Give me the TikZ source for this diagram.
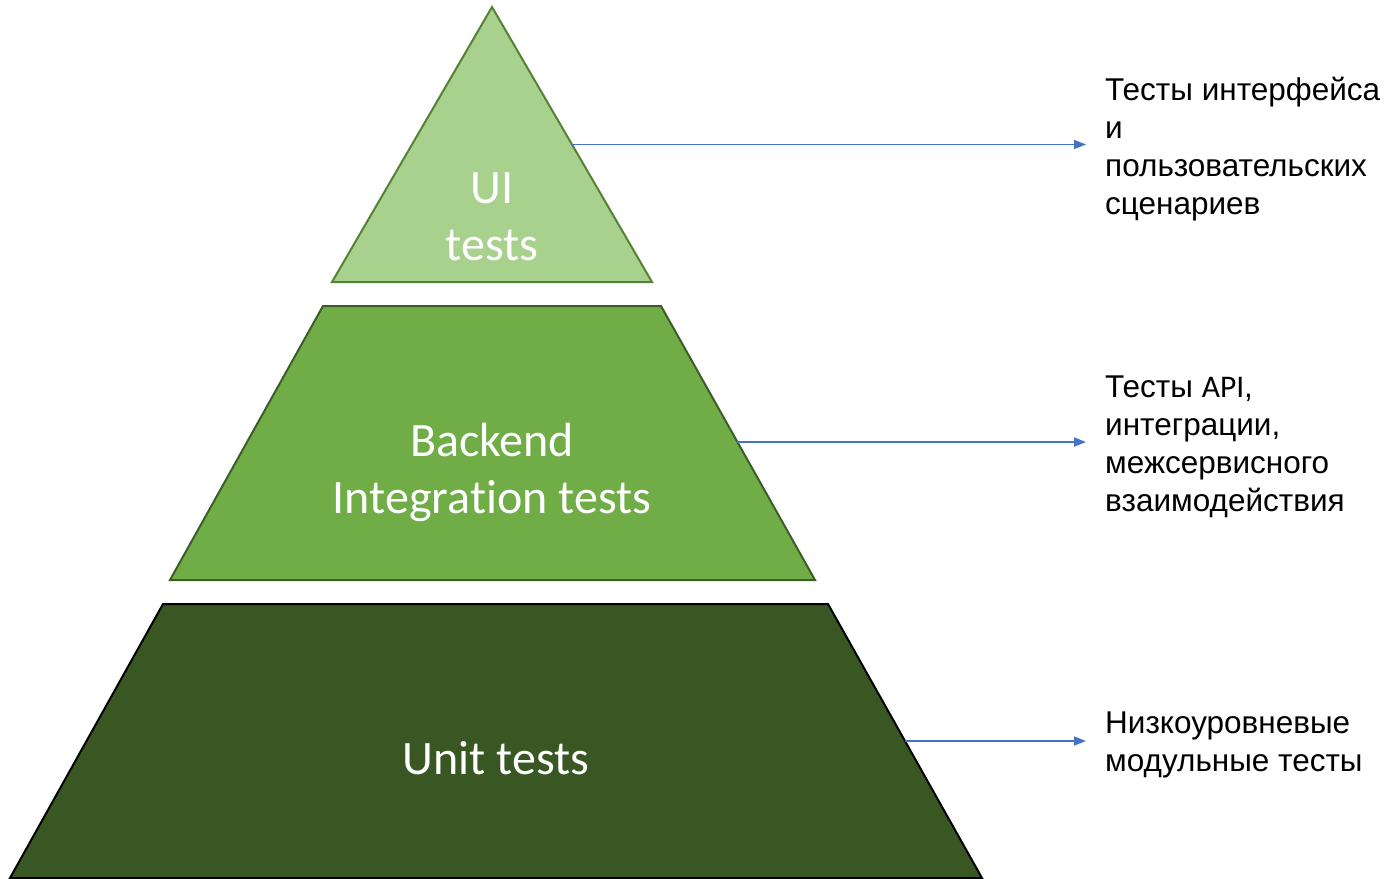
\documentclass[tikz,border=0pt]{standalone}
\usepackage{fontspec}
\setmainfont{Liberation Sans}
\newfontfamily\calfont[Ligatures=NoCommon]{Carlito}
\usetikzlibrary{arrows.meta,calc}
\definecolor{uifill}{HTML}{A9D18E}
\definecolor{uiline}{HTML}{548235}
\definecolor{befill}{HTML}{70AD47}
\definecolor{beline}{HTML}{3B5E28}
\definecolor{unfill}{HTML}{385723}
\definecolor{arrowblue}{HTML}{4472C4}
\tikzset{
  layer/.style={line width=2pt, line join=miter},
  layertext/.style={text=white, font=\calfont\fontsize{48}{57}\selectfont, align=center, inner sep=0pt},
  desc/.style={font=\fontsize{31.5}{38}\selectfont, align=left, anchor=north west, inner sep=0pt, text=black},
  pointer/.style={draw=arrowblue, line width=1.5pt, -{Triangle[length=12pt,width=9pt]}}
}
\begin{document}
\begin{tikzpicture}[x=1pt,y=-1pt]
\useasboundingbox (0,0) rectangle (1389,878);
% top triangle
\coordinate (uiA) at (492,7);
\coordinate (uiL) at (332,282);
\coordinate (uiR) at (652,282);
\filldraw[layer, fill=uifill, draw=uiline] (uiA) -- (uiR) -- (uiL) -- cycle;
% middle trapezoid
\coordinate (beTL) at (323,306);
\coordinate (beTR) at (661,306);
\coordinate (beBR) at (815,580);
\coordinate (beBL) at (170,580);
\filldraw[layer, fill=befill, draw=beline] (beTL) -- (beTR) -- (beBR) -- (beBL) -- cycle;
% bottom trapezoid
\coordinate (unTL) at (163,604);
\coordinate (unTR) at (828,604);
\coordinate (unBR) at (982,878);
\coordinate (unBL) at (10,878);
\filldraw[layer, fill=unfill, draw=black] (unTL) -- (unTR) -- (unBR) -- (unBL) -- cycle;
% layer labels
\node[layertext] (uitext) at (492,216.5) {UI\\tests};
\node[layertext] (betext) at (492,472) {Backend\\Integration tests};
\node[layertext] (untext) at (496,758) {Unit tests};
% descriptions
\node[desc] (d1) at (1105,77) {Тесты интерфейса\\и\\пользовательских\\сценариев};
\node[desc] (d2) at (1105,376) {Тесты {\calfont API},\\интеграции,\\межсервисного\\взаимодействия};
\node[desc] (d3) at (1105,712) {Низкоуровневые\\модульные тесты};
% pointers
\coordinate (p1s) at ($(uiA)!0.5!(uiR)$);
\coordinate (p1e) at (1086,145);
\coordinate (p2s) at ($(beTR)!0.4964!(beBR)$);
\coordinate (p2e) at (1086,442);
\coordinate (p3s) at ($(unTR)!0.5!(unBR)$);
\coordinate (p3e) at (1086,741);
\draw[pointer] (p1s) -- (p1s -| p1e);
\draw[pointer] (p2s) -- (p2s -| p2e);
\draw[pointer] (p3s) -- (p3s -| p3e);
\end{tikzpicture}
\end{document}
